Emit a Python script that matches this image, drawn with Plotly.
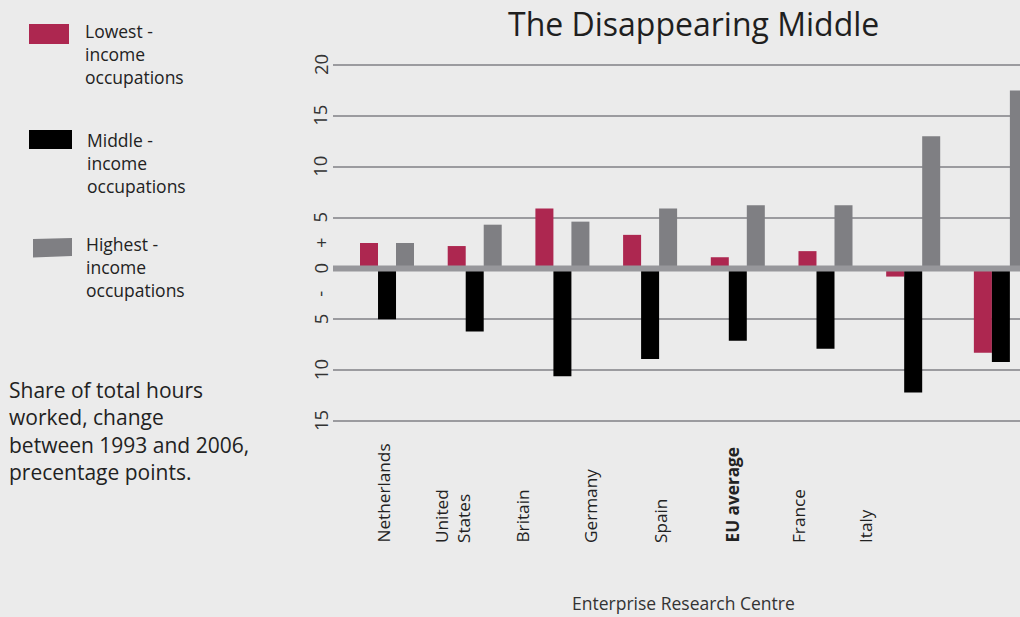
import plotly.graph_objects as go

# ---- data ----
countries = ["Netherlands", "United States", "Britain", "Germany", "Spain", "EU average", "France", "Italy"]
country_labels = ["Netherlands", "United<br>States", "Britain", "Germany", "Spain", "<b>EU average</b>", "France", "Italy"]
lowest = [2.5, 2.2, 5.9, 3.3, 1.1, 1.7, -0.8, -8.3]
middle = [-5.0, -6.2, -10.6, -8.9, -7.1, -7.9, -12.2, -9.2]
highest = [2.5, 4.3, 4.6, 5.9, 6.2, 6.2, 13.0, 17.5]
ytick_vals = [20, 15, 10, 5, 0, -5, -10, -15]
ytick_text = ["20", "15", "10", "5", "0", "5", "10", "15"]

# ---- layout constants (pixels) ----
W, H = 1020, 617
L, R, T, B = 333, 1020, 63, 423
BG = "#ebebeb"
RED = "#ad2750"
BLACK = "#000000"
GREY = "#7f7f83"
GRID = "#9b9b9f"
TXT = "#222222"
FONT = "Open Sans, Noto Sans, sans-serif"


def px(x):
    return (x - L) / (R - L)


def py(y):
    return (B - y) / (B - T)


xs = list(range(len(countries)))
fig = go.Figure()
fig.add_trace(go.Bar(x=xs, y=lowest, name="Lowest - income occupations", marker_color=RED, marker_line_width=0))
fig.add_trace(go.Bar(x=xs, y=middle, name="Middle - income occupations", marker_color=BLACK, marker_line_width=0))
fig.add_trace(go.Bar(x=xs, y=highest, name="Highest - income occupations", marker_color=GREY, marker_line_width=0))

annotations = []
# y tick labels (rotated)
for v, t in zip(ytick_vals, ytick_text):
    annotations.append(dict(x=px(320), y=v, xref="paper", yref="y", text=t, textangle=-90,
                            showarrow=False, xanchor="center", yanchor="middle",
                            font=dict(size=18.5, color="#333333", family=FONT)))
for v, t in [(2.5, "+"), (-2.5, "-")]:
    annotations.append(dict(x=px(320), y=v, xref="paper", yref="y", text=t, textangle=-90,
                            showarrow=False, xanchor="center", yanchor="middle",
                            font=dict(size=18.5, color="#333333", family=FONT)))

# category labels (rotated)
label_px = [383, 452, 522, 590, 660, 732, 798, 865]
for lx, t in zip(label_px, country_labels):
    annotations.append(dict(x=px(lx), y=py(545), xref="paper", yref="paper", text=t, textangle=-90,
                            showarrow=False, xanchor="center", yanchor="bottom", align="left",
                            font=dict(size=17.2, color=TXT, family=FONT)))

# title
annotations.append(dict(x=px(693), y=py(24), xref="paper", yref="paper", text="The Disappearing Middle",
                        showarrow=False, xanchor="center", yanchor="middle",
                        font=dict(size=32, color="#1f1f1f", family=FONT)))
# footer
annotations.append(dict(x=px(683), y=py(603), xref="paper", yref="paper", text="Enterprise Research Centre",
                        showarrow=False, xanchor="center", yanchor="middle",
                        font=dict(size=17.5, color="#333333", family=FONT)))
# left note
annotations.append(dict(x=px(7), y=py(374), xref="paper", yref="paper",
                        text="Share of total hours<br>worked, change<br>between 1993 and 2006,<br>precentage points.",
                        showarrow=False, xanchor="left", yanchor="top", align="left",
                        font=dict(size=21, color=TXT, family=FONT)))
# legend texts
for (lx, ly, t) in [(83, 54, "Lowest -<br>income<br>occupations"),
                    (85, 163, "Middle -<br>income<br>occupations"),
                    (84, 267, "Highest -<br>income<br>occupations")]:
    annotations.append(dict(x=px(lx), y=py(ly), xref="paper", yref="paper", text=t,
                            showarrow=False, xanchor="left", yanchor="middle", align="left",
                            font=dict(size=17.5, color=TXT, family=FONT)))

shapes = [
    # zero line band drawn above bars
    dict(type="line", xref="paper", yref="y", x0=0, x1=1, y0=0, y1=0,
         line=dict(color="#97979b", width=6), layer="above"),
    # legend swatches
    dict(type="rect", xref="paper", yref="paper", x0=px(29), x1=px(69), y0=py(44), y1=py(24),
         fillcolor=RED, line=dict(width=0)),
    dict(type="rect", xref="paper", yref="paper", x0=px(29), x1=px(72), y0=py(149), y1=py(130),
         fillcolor=BLACK, line=dict(width=0)),
    dict(type="path", xref="paper", yref="paper",
         path=f"M {px(33)},{py(239)} L {px(72)},{py(238)} L {px(72)},{py(256)} L {px(33)},{py(257.5)} Z",
         fillcolor=GREY, line=dict(width=0)),
]

fig.update_layout(
    width=W, height=H,
    margin=dict(l=L, r=W - R, t=T, b=H - B, pad=0),
    paper_bgcolor=BG, plot_bgcolor=BG,
    barmode="group", bargap=0.384, bargroupgap=0,
    showlegend=False,
    font=dict(family=FONT, color=TXT),
    xaxis=dict(range=[-0.616, 7.218], showticklabels=False, showgrid=False, zeroline=False,
               showline=False, ticks=""),
    yaxis=dict(range=[-15.197, 20.197], tickvals=ytick_vals, showticklabels=False,
               showgrid=True, gridcolor=GRID, gridwidth=1.5, zeroline=False, showline=False, ticks=""),
    annotations=annotations,
    shapes=shapes,
)

fig.write_html("out.html", config={"displayModeBar": False},
               post_script="document.body.style.margin='0';document.body.style.padding='0';"
                           "document.body.style.background='#ebebeb';")
